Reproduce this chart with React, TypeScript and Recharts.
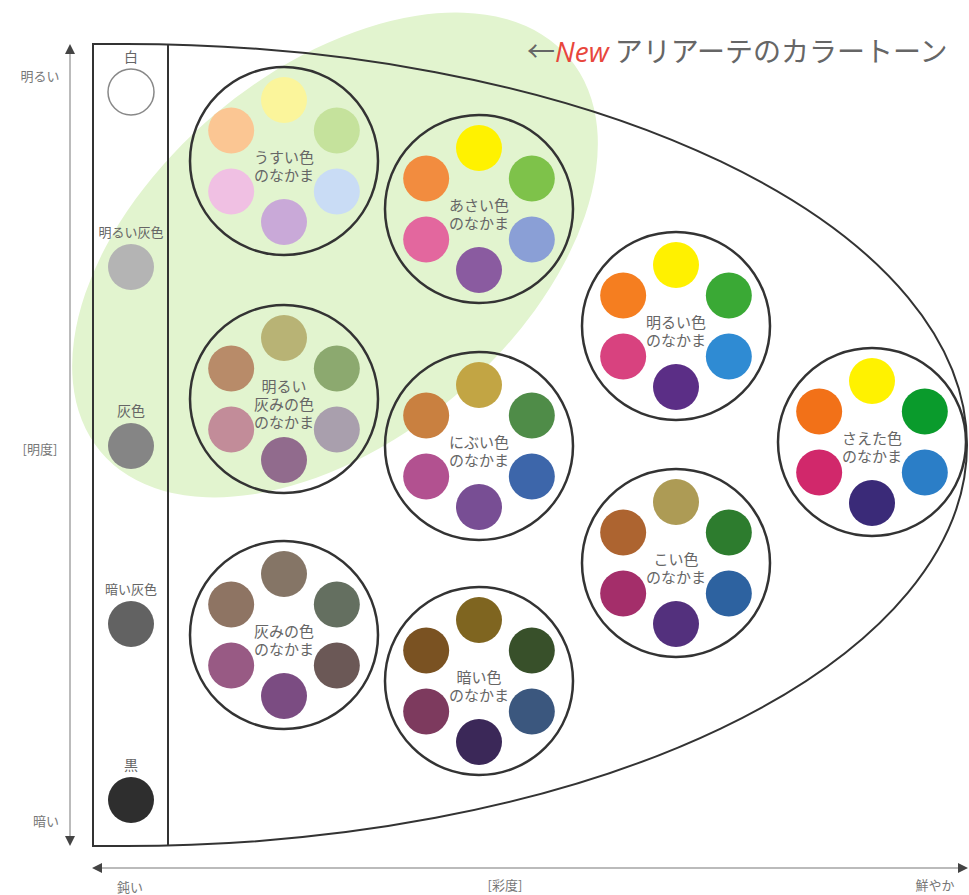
import { Scatter, ScatterChart, XAxis, YAxis } from 'recharts';

const W = 969;
const H = 895;
const FONT = '"Noto Sans CJK JP", "Noto Sans", sans-serif';

// tone groups (x = 彩度 position, y = 明度 position)
const toneLabels = [
  ['うすい色', 'のなかま'],
  ['あさい色', 'のなかま'],
  ['明るい', '灰みの色', 'のなかま'],
  ['にぶい色', 'のなかま'],
  ['明るい色', 'のなかま'],
  ['さえた色', 'のなかま'],
  ['こい色', 'のなかま'],
  ['灰みの色', 'のなかま'],
  ['暗い色', 'のなかま'],
];
const toneX = [284, 479, 284, 479, 676, 872, 676, 284, 479];
const toneY = [161, 209, 399, 446, 326, 442, 563, 635, 681];

// colours per group: yellow, green, blue, purple, pink, orange
const toneColors = [
  ['#fbf59b', '#c5e29c', '#c9dcf5', '#c9a9d8', '#f0c0e3', '#fbc693'],
  ['#fff200', '#7ec24a', '#8a9fd6', '#8a5ba0', '#e3679e', '#f28c3f'],
  ['#b8b375', '#8ca96f', '#a99fad', '#916b8d', '#c28c99', '#b88b69'],
  ['#c2a544', '#4f8c48', '#3d66aa', '#784e94', '#b25190', '#c98040'],
  ['#fff100', '#3aa935', '#2f8bd3', '#5b2e86', '#d8427f', '#f57e20'],
  ['#fff200', '#0a9b2c', '#2b7ec7', '#3a2a78', '#d1286b', '#f27118'],
  ['#ad9b55', '#2d7c2e', '#2d62a0', '#53307d', '#a42e6a', '#ad6430'],
  ['#857566', '#646f60', '#6b5856', '#7b4c82', '#985a84', '#8e7463'],
  ['#7f6520', '#38502a', '#3b577e', '#3b2858', '#7d3a5e', '#7a5222'],
];
// hue slot angles round each group circle
const hueAngles = [90, 30, -30, -90, -150, 150];
const hueRadius = 61;

// achromatic column
const grayLabels = ['白', '明るい灰色', '灰色', '暗い灰色', '黒'];
const grayY = [92, 267, 446, 624, 800];
const grayColors = ['#ffffff', '#b4b4b4', '#858585', '#626262', '#2e2e2e'];
const grayX = 131;

// axis captions
const axisLabels = [
  { x: 40, y: 75, text: '明るい' },
  { x: 40, y: 448, text: '[明度]' },
  { x: 46, y: 820, text: '暗い' },
  { x: 130, y: 886, text: '鈍い' },
  { x: 505, y: 884, text: '[彩度]' },
  { x: 935, y: 884, text: '鮮やか' },
];

const newTone = [{ x: 335, y: 255 }];
const frameCenter = [{ x: 126, y: 445 }];
const axisOrigin = [{ x: 70, y: 868 }];
const titlePos = [{ x: 527, y: 62 }];

const groups = toneX.map((x, i) => ({ x, y: toneY[i], lines: toneLabels[i] }));
const dots = groups.flatMap((g, i) =>
  hueAngles.map((a, j) => ({
    x: g.x + hueRadius * Math.cos((a * Math.PI) / 180),
    y: g.y - hueRadius * Math.sin((a * Math.PI) / 180),
    color: toneColors[i][j],
  }))
);
const grays = grayLabels.map((label, i) => ({ x: grayX, y: grayY[i], label, color: grayColors[i] }));

const GreenArea = ({ cx, cy }: any) => (
  <ellipse cx={cx} cy={cy} rx={306} ry={185} fill="#e2f4cf" transform={`rotate(-40 ${cx} ${cy})`} />
);

const Frame = ({ cx, cy }: any) => {
  const top = cy - 401;
  const bottom = cy + 401;
  return (
    <g fill="none" stroke="#333" strokeWidth={2}>
      <path d={`M 93 ${top} L ${cx} ${top} A 841 401 0 0 1 ${cx} ${bottom} L 93 ${bottom} Z`} />
      <line x1={168} y1={top} x2={168} y2={bottom} />
    </g>
  );
};

const Axes = ({ cx, cy }: any) => (
  <g>
    <line x1={cx} y1={52} x2={cx} y2={838} stroke="#bbb" strokeWidth={2} />
    <polygon points={`${cx - 5},${54} ${cx + 5},${54} ${cx},${44}`} fill="#444" />
    <polygon points={`${cx - 5},${836} ${cx + 5},${836} ${cx},${846}`} fill="#444" />
    <line x1={100} y1={cy} x2={960} y2={cy} stroke="#bbb" strokeWidth={2} />
    <polygon points={`${102},${cy - 5} ${102},${cy + 5} ${92},${cy}`} fill="#444" />
    <polygon points={`${958},${cy - 5} ${958},${cy + 5} ${968},${cy}`} fill="#444" />
  </g>
);

const Ring = ({ cx, cy }: any) => (
  <circle cx={cx} cy={cy} r={94} fill="none" stroke="#333" strokeWidth={2.5} />
);

const Dot = ({ cx, cy, payload }: any) => <circle cx={cx} cy={cy} r={23} fill={payload.color} />;

const GroupLabel = ({ cx, cy, payload }: any) => {
  const n = payload.lines.length;
  const start = cy + 4 - ((n - 1) * 18) / 2;
  return (
    <text textAnchor="middle" fontFamily={FONT} fontSize={15} fill="#666">
      {payload.lines.map((l: string, i: number) => (
        <tspan key={i} x={cx} y={start + i * 18} dominantBaseline="central">
          {l}
        </tspan>
      ))}
    </text>
  );
};

const GrayDot = ({ cx, cy, payload }: any) => (
  <g>
    <text x={cx} y={cy - 36} textAnchor="middle" dominantBaseline="central" fontFamily={FONT} fontSize={payload.label.length > 3 ? 13 : 14} fill="#666">
      {payload.label}
    </text>
    <circle cx={cx} cy={cy} r={23} fill={payload.color} stroke={payload.color === '#ffffff' ? '#888' : 'none'} strokeWidth={1.5} />
  </g>
);

const AxisLabel = ({ cx, cy, payload }: any) => (
  <text x={cx} y={cy} textAnchor="middle" dominantBaseline="central" fontFamily={FONT} fontSize={13} fill="#777">
    {payload.text}
  </text>
);

const Title = ({ cx, cy }: any) => (
  <text x={cx} y={cy} fontFamily={FONT} fontSize={28} fill="#666">
    <tspan>←</tspan>
    <tspan fill="#e8463c" fontStyle="italic" fontFamily='"Open Sans", sans-serif'>New</tspan>
    <tspan dx={6}>アリアーテのカラートーン</tspan>
  </text>
);

export default function App() {
  return (
    <div style={{ width: W, height: H, background: '#fff' }}>
      <style>{'body{margin:0}'}</style>
      <ScatterChart width={W} height={H} margin={{ top: 0, right: 0, bottom: 0, left: 0 }}>
        <XAxis type="number" dataKey="x" domain={[0, W]} hide />
        <YAxis type="number" dataKey="y" domain={[0, H]} reversed hide />
        <Scatter data={newTone} shape={GreenArea} isAnimationActive={false} />
        <Scatter data={frameCenter} shape={Frame} isAnimationActive={false} />
        <Scatter data={axisOrigin} shape={Axes} isAnimationActive={false} />
        <Scatter data={groups} shape={Ring} isAnimationActive={false} />
        <Scatter data={dots} shape={Dot} isAnimationActive={false} />
        <Scatter data={groups} shape={GroupLabel} isAnimationActive={false} />
        <Scatter data={grays} shape={GrayDot} isAnimationActive={false} />
        <Scatter data={axisLabels} shape={AxisLabel} isAnimationActive={false} />
        <Scatter data={titlePos} shape={Title} isAnimationActive={false} />
      </ScatterChart>
    </div>
  );
}
